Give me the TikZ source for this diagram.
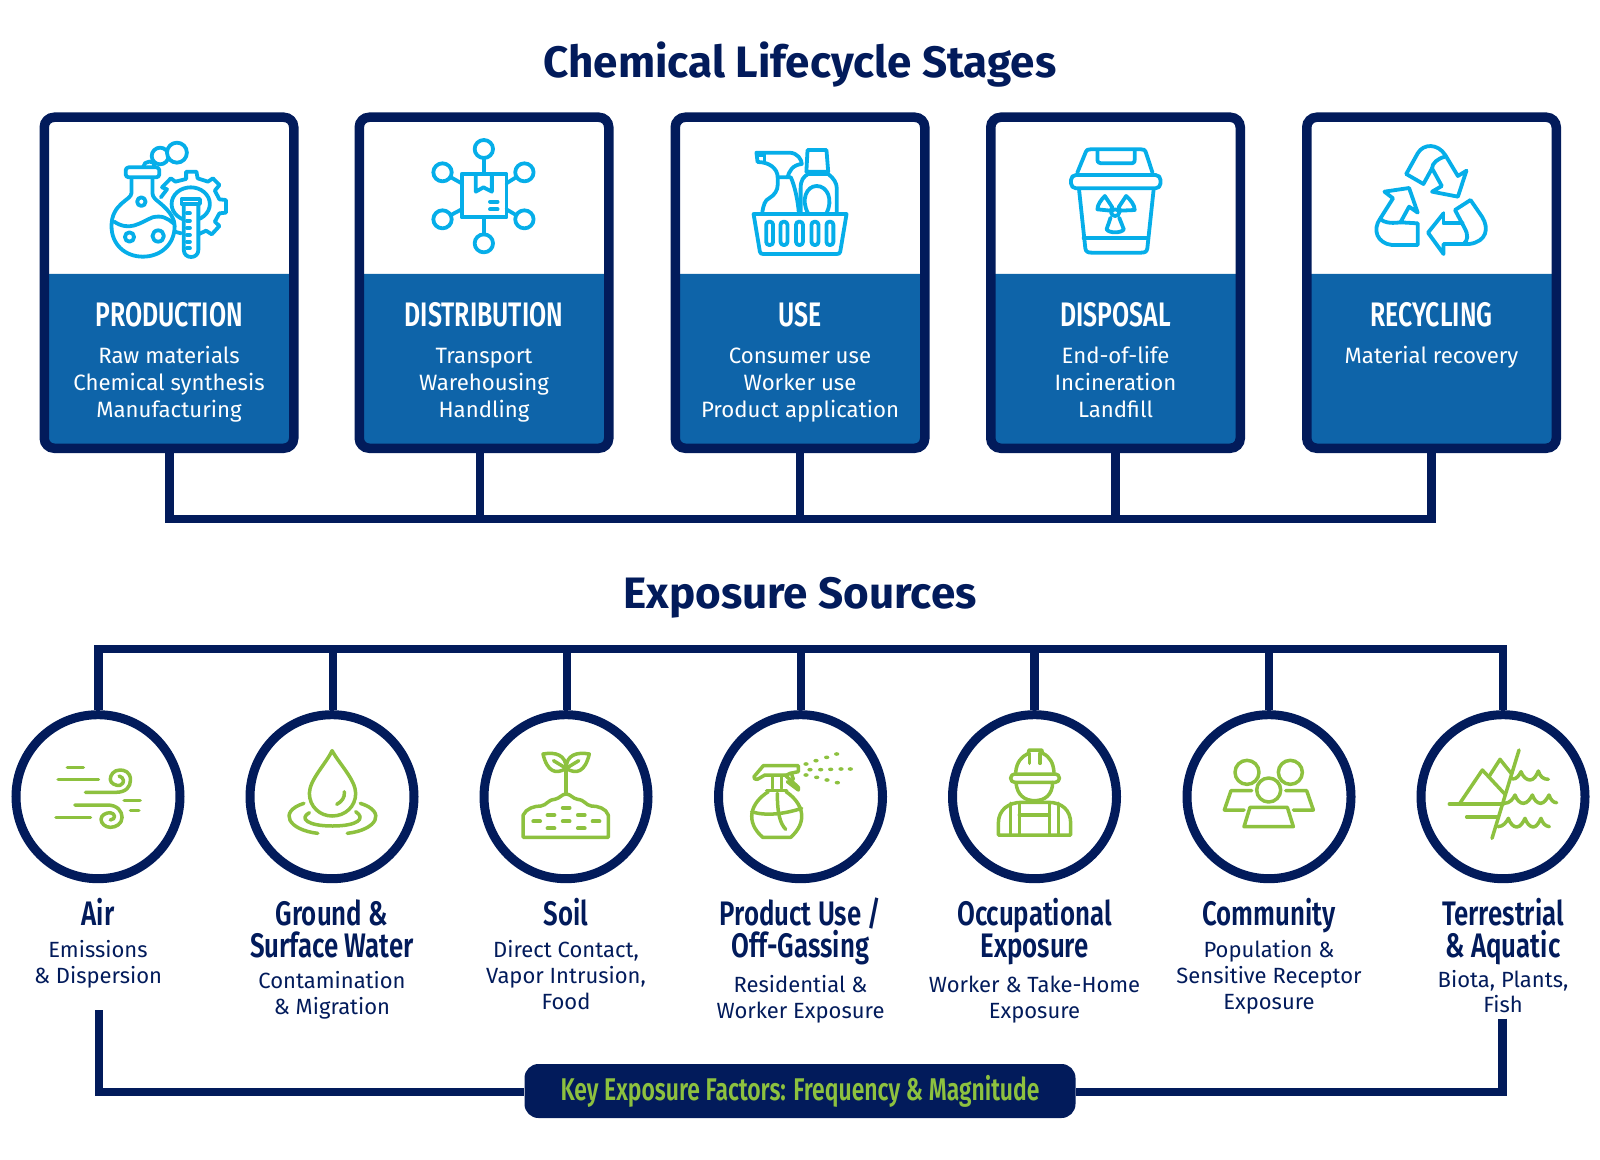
\documentclass[tikz,border=0pt]{standalone}
\usepackage{fontspec}
\setmainfont{Fira Sans}
\newfontfamily\headfont[FakeStretch=0.73,UprightFont=* SemiBold]{Fira Sans}
\newfontfamily\srcfont[FakeStretch=0.76,UprightFont=* SemiBold]{Fira Sans}
\newfontfamily\titlefont[UprightFont=* Bold]{Fira Sans}
\definecolor{navy}{HTML}{021B5B}
\definecolor{panel}{HTML}{0E64A9}
\definecolor{cyanicon}{HTML}{06AEE9}
\definecolor{greenicon}{HTML}{8DC13F}
\tikzset{
 bus/.style={draw=navy,line width=4.4pt,line join=miter},
 stagebox/.style={draw=navy,line width=4.75pt,rounded corners=5pt,minimum width=124.75pt,minimum height=165.5pt,inner sep=0pt},
 srccircle/.style={circle,draw=navy,fill=white,line width=4.5pt,minimum size=82pt,inner sep=0pt},
 titletext/.style={anchor=base,text=navy,font=\titlefont\fontsize{22}{24}\selectfont},
 stagehead/.style={anchor=base,text=white,font=\headfont\fontsize{17}{20}\selectfont},
 stagesub/.style={anchor=base,text=white,font=\fontsize{11.1}{13}\selectfont},
 srchead/.style={anchor=base,text=navy,font=\srcfont\fontsize{17}{20}\selectfont},
 srcsub/.style={anchor=base,text=navy,font=\fontsize{11}{13}\selectfont},
 pillbox/.style={draw=none,fill=navy,rounded corners=7pt,minimum width=275.5pt,minimum height=27pt,inner sep=0pt},
 pilltext/.style={anchor=base,text=greenicon,font=\headfont\fontsize{15.7}{18}\selectfont},
 cy/.style={draw=cyanicon,line width=1.9pt,line cap=round,line join=round},
 gr/.style={draw=greenicon,line width=1.75pt,line cap=round,line join=round},
 zA/.style={shift={(30,100)},x=0.19133pt,y=-0.16667pt},
 zB/.style={shift={(660,100)},x=0.28700pt,y=-0.16667pt},
 zC/.style={shift={(0,700)},x=0.21046pt,y=-0.16667pt},
 zD/.style={shift={(700,700)},x=0.16667pt,y=-0.16667pt},
 zE/.style={shift={(1170,700)},x=0.16667pt,y=-0.16667pt},
}
\begin{document}
\begin{tikzpicture}[x=0.5pt,y=-0.5pt]
\useasboundingbox (0,0) rectangle (1600,1160);
\node[titletext] (t1) at (800,77.5) {Chemical Lifecycle Stages};
\node[titletext] (t2) at (800,608) {Exposure Sources};
% panels
\foreach \i/\c in {1/169,2/484,3/800,4/1115.5,5/1431.5}{
  \fill[panel] (\c-124,274) -- (\c+124,274) -- (\c+124,438) -- (\c+118,447) -- (\c-118,447) -- (\c-124,438) -- cycle;
  \node[stagebox] (b\i) at (\c,282.75) {};
}
% bus coordinates
\coordinate (d1) at (169.5,519); \coordinate (d2) at (480,519); \coordinate (d3) at (800,519);
\coordinate (d4) at (1115.5,519); \coordinate (d5) at (1431.5,519);
\draw[bus] (b1.south -| d1) -- (d1) -- (d5) -- (b5.south -| d5);
\draw[bus] (b2.south -| d2) -- (d2);
\draw[bus] (b3.south -| d3) -- (d3);
\draw[bus] (b4.south -| d4) -- (d4);
% stage text
\node[stagehead] (h1) at (169,326.5) {PRODUCTION};
\node[stagesub] (s1a) at (169,363.5) {Raw materials};
\node[stagesub] (s1b) at (169,390.5) {Chemical synthesis};
\node[stagesub] (s1c) at (169,417) {Manufacturing};
\node[stagehead] (h2) at (484,326.5) {DISTRIBUTION};
\node[stagesub] (s2a) at (484,363.5) {Transport};
\node[stagesub] (s2b) at (484,390.5) {Warehousing};
\node[stagesub] (s2c) at (484,417) {Handling};
\node[stagehead] (h3) at (800,326.5) {USE};
\node[stagesub] (s3a) at (800,363.5) {Consumer use};
\node[stagesub] (s3b) at (800,390.5) {Worker use};
\node[stagesub] (s3c) at (800,417) {Product application};
\node[stagehead] (h4) at (1115.5,326.5) {DISPOSAL};
\node[stagesub] (s4a) at (1115.5,363.5) {End-of-life};
\node[stagesub] (s4b) at (1115.5,390.5) {Incineration};
\node[stagesub] (s4c) at (1115.5,417) {Landfill};
\node[stagehead] (h5) at (1431.5,326.5) {RECYCLING};
\node[stagesub] (s5a) at (1431.5,363.5) {Material recovery};
% circles and top bus
\coordinate (u1) at (98.5,649); \coordinate (u2) at (333,649); \coordinate (u3) at (567,649);
\coordinate (u4) at (801,649); \coordinate (u5) at (1034.5,649); \coordinate (u6) at (1269,649);
\coordinate (u7) at (1503,649);
\foreach \i/\c in {1/98,2/332,3/566,4/800.5,5/1034.5,6/1269,7/1503}{
  \node[srccircle] (c\i) at (\c,796.7) {};
}
\draw[bus] (c1.north -| u1) -- (u1) -- (u7) -- (c7.north -| u7);
\foreach \i in {2,...,6}{ \draw[bus] (c\i.north -| u\i) -- (u\i); }
% source text
\node[srchead] (n1) at (98,925) {Air};
\node[srcsub] (n1a) at (98,957) {Emissions};
\node[srcsub] (n1b) at (98,983.5) {\& Dispersion};
\node[srchead] (n2) at (332,925) {Ground \&};
\node[srchead] (n2h) at (332,957) {Surface Water};
\node[srcsub] (n2a) at (332,988) {Contamination};
\node[srcsub] (n2b) at (332,1014.5) {\& Migration};
\node[srchead] (n3) at (566,925) {Soil};
\node[srcsub] (n3a) at (566,957) {Direct Contact,};
\node[srcsub] (n3b) at (566,983.5) {Vapor Intrusion,};
\node[srcsub] (n3c) at (566,1009) {Food};
\node[srchead] (n4) at (800.5,925) {Product Use /};
\node[srchead] (n4h) at (800.5,957) {Off-Gassing};
\node[srcsub] (n4a) at (800.5,992) {Residential \&};
\node[srcsub] (n4b) at (800.5,1018) {Worker Exposure};
\node[srchead] (n5) at (1034.5,925) {Occupational};
\node[srchead] (n5h) at (1034.5,957) {Exposure};
\node[srcsub] (n5a) at (1034.5,992) {Worker \& Take-Home};
\node[srcsub] (n5b) at (1034.5,1018) {Exposure};
\node[srchead] (n6) at (1269,925) {Community};
\node[srcsub] (n6a) at (1269,957) {Population \&};
\node[srcsub] (n6b) at (1269,983.5) {Sensitive Receptor};
\node[srcsub] (n6c) at (1269,1009) {Exposure};
\node[srchead] (n7) at (1503,925) {Terrestrial};
\node[srchead] (n7h) at (1503,957) {\& Aquatic};
\node[srcsub] (n7a) at (1503,987) {Biota, Plants,};
\node[srcsub] (n7b) at (1503,1012.5) {Fish};
% pill and bottom bus
\node[pillbox] (pill) at (800,1091) {};
\node[pilltext] (pt) at (800,1100.5) {Key Exposure Factors: Frequency \& Magnitude};
\coordinate (e1) at (99,1010); \coordinate (e2) at (1502.5,1018.5);
\coordinate (f1) at (99,1092); \coordinate (f2) at (1502.5,1092);
\draw[bus] (e1) -- (f1) -- (f1 -| pill.west);
\draw[bus] (e2) -- (f2) -- (f2 -| pill.east);
% ---- icon: flask & gear
\begin{scope}[zA,cy]
 \draw (342,292) -- (358,268) -- (345,262) -- (368,235) -- (380,245) -- (408,237) -- (408,215) -- (435,215) -- (438,235) -- (465,245) -- (478,235) -- (495,255) -- (483,272) -- (495,298) -- (512,300) -- (512,338) -- (495,340) -- (483,365) -- (495,378) -- (475,403) -- (460,392) -- (442,402);
 \draw (378,395) -- (395,400);
 \draw (420,312) ellipse [x radius=50,y radius=50];
 \draw[fill=white] (402,312) -- (402,450) .. controls (402,478) and (440,478) .. (440,450) -- (440,312) -- cycle;
 \draw[fill=white] (396,297) rectangle (444,312);
 \foreach \y in {340,362,384,405,425,445}{\draw (410,\y) -- (418,\y);}
 \draw[fill=white] (265,232) -- (265,280) .. controls (265,300) and (213,310) .. (213,378) .. controls (213,435) and (250,470) .. (295,470) .. controls (340,470) and (378,435) .. (378,378) .. controls (378,340) and (340,310) .. (328,298) .. controls (322,290) and (320,285) .. (320,280) -- (320,232);
 \draw[fill=white,rounded corners=1.5pt] (250,202) rectangle (338,232);
 \draw (220,365) .. controls (260,395) and (285,370) .. (320,352) .. controls (345,345) and (360,355) .. (375,370);
 \draw (291,305) ellipse [x radius=11,y radius=13];
 \draw (260,411) ellipse [x radius=12,y radius=14];
 \draw (335,408) ellipse [x radius=15,y radius=17];
 \draw (296,200) .. controls (296,182) and (328,178) .. (324,198);
 \draw[fill=white] (340,168) ellipse [x radius=22,y radius=25];
 \draw[fill=white] (384,158) ellipse [x radius=26,y radius=30];
\end{scope}
% ---- icon: box network
\begin{scope}[zA,cy]
 \draw (1128,222) rectangle (1245,352);
 \draw (1165,222) -- (1165,275) -- (1185,262) -- (1207,275) -- (1207,222);
 \draw (1202,305) -- (1222,305);
 \draw (1202,328) -- (1222,328);
 \foreach \x/\y in {1186/147,1078/217,1292/217,1078/358,1292/358,1186/430}{
  \draw (\x,\y) ellipse [x radius=24,y radius=27];}
 \draw (1186,174) -- (1186,222);
 \draw (1186,352) -- (1186,403);
 \draw (1100,232) -- (1128,250);
 \draw (1270,232) -- (1245,250);
 \draw (1100,345) -- (1128,328);
 \draw (1270,345) -- (1245,328);
\end{scope}
% ---- icon: basket & bottles
\begin{scope}[zB,cy]
 \draw (178,340) .. controls (180,315) and (183,300) .. (190,295) .. controls (200,285) and (205,270) .. (205,255) -- (205,232) .. controls (205,205) and (190,186) .. (170,186) -- (168,158) -- (225,158) .. controls (240,158) and (247,180) .. (247,192) .. controls (230,195) and (225,215) .. (222,232);
 \draw (170,164) -- (182,164) -- (182,184);
 \draw (205,232) -- (228,232) .. controls (235,260) and (240,300) .. (242,340);
 \draw (257,150) -- (290,150) -- (293,215) -- (255,215) -- cycle;
 \draw (245,340) -- (245,265) .. controls (245,240) and (250,230) .. (258,222) -- (293,222) .. controls (303,235) and (308,250) .. (308,265) -- (308,340);
 \draw (258,340) .. controls (245,300) and (255,258) .. (273,258) .. controls (292,258) and (302,300) .. (290,340);
 \draw[fill=white] (163,342) -- (325,342) -- (314,455) .. controls (313,460) and (312,462) .. (308,462) -- (180,462) .. controls (176,462) and (175,460) .. (174,455) -- cycle;
 \foreach \x in {191,216,243,270,296}{
  \draw[rounded corners=1.5pt] (\x-6,365) rectangle (\x+6,435);}
\end{scope}
% ---- icon: trash
\begin{scope}[zB,cy]
 \draw (727,218) -- (742,155) .. controls (743,150) and (745,148) .. (750,148) -- (838,148) .. controls (843,148) and (845,150) .. (846,155) -- (858,218);
 \draw (762,150) -- (762,178) .. controls (762,188) and (765,190) .. (772,190) -- (818,190) .. controls (825,190) and (827,188) .. (827,178) -- (827,150);
 \draw[rounded corners=2.5pt] (716,225) rectangle (872,265);
 \draw (730,268) -- (741,445) .. controls (742,455) and (745,458) .. (752,458) -- (838,458) .. controls (845,458) and (848,455) .. (849,445) -- (860,268);
 \draw (738,415) -- (850,415);
 \draw (775,288) .. controls (768,300) and (762,315) .. (762,328) -- (785,332) -- (788,322) -- cycle;
 \draw (812,288) .. controls (820,300) and (827,315) .. (827,330) -- (802,332) -- (799,322) -- cycle;
 \draw (785,353) -- (778,388) .. controls (782,400) and (804,400) .. (808,388) -- (800,353);
 \draw (793,338) ellipse [x radius=7,y radius=10];
\end{scope}
% ---- icon: recycle
\begin{scope}[zB,cy]
 \draw (1300,222) -- (1320,160) .. controls (1330,130) and (1355,130) .. (1368,165) -- (1390,228) -- (1405,212) -- (1390,290) -- (1345,275) -- (1362,258) -- (1345,205) .. controls (1345,190) and (1355,175) .. (1368,170);
 \draw (1300,222) -- (1330,252) -- (1345,205);
 \draw (1262,275) -- (1305,264) -- (1320,338) -- (1305,320) -- (1290,367) -- (1320,370) -- (1320,435) -- (1275,435) .. controls (1250,430) and (1240,390) .. (1255,355) -- (1277,295) -- cycle;
 \draw (1255,355) .. controls (1258,365) and (1270,372) .. (1290,367);
 \draw (1365,340) -- (1338,398) -- (1365,462) -- (1365,432) -- (1410,432) .. controls (1440,425) and (1445,385) .. (1432,350) -- (1412,300) -- (1385,330) -- (1402,385) .. controls (1408,405) and (1408,420) .. (1400,432);
 \draw (1365,340) -- (1365,370) -- (1398,370);
\end{scope}
% ---- icon: wind
\begin{scope}[zC,gr]
 \draw (160,202) -- (198,202);
 \draw (138,239) -- (234,239);
 \draw (203,277) -- (275,277) .. controls (300,277) and (310,260) .. (310,240) .. controls (310,215) and (295,210) .. (285,210) .. controls (270,210) and (262,225) .. (262,238) .. controls (262,250) and (275,258) .. (285,256) .. controls (298,250) and (295,232) .. (283,228);
 \draw (178,315) -- (255,315) .. controls (280,315) and (290,335) .. (290,352) .. controls (290,372) and (275,382) .. (262,382) .. controls (250,382) and (240,370) .. (240,358) .. controls (240,345) and (252,338) .. (262,338) .. controls (275,340) and (276,358) .. (262,360);
 \draw (133,352) -- (215,352);
 \draw (295,301) -- (333,301);
 \draw (310,331) -- (330,331);
\end{scope}
% ---- icon: drop
\begin{scope}[zC,gr]
 \draw (789,152) .. controls (775,190) and (735,240) .. (735,280) .. controls (735,320) and (760,348) .. (789,348) .. controls (820,348) and (845,320) .. (845,280) .. controls (845,240) and (805,190) .. (789,152) -- cycle;
 \draw (800,313) .. controls (812,305) and (820,292) .. (818,275);
 \draw (735,338) .. controls (710,355) and (730,378) .. (790,378) .. controls (850,378) and (870,355) .. (845,335);
 \draw (722,310) .. controls (660,335) and (685,390) .. (755,400);
 \draw (856,310) .. controls (920,335) and (895,390) .. (825,400);
\end{scope}
% ---- icon: soil
\begin{scope}[zC,gr]
 \draw (1345,205) .. controls (1320,225) and (1300,215) .. (1290,162) .. controls (1320,155) and (1345,165) .. (1345,205);
 \draw (1345,205) .. controls (1370,225) and (1390,215) .. (1400,162) .. controls (1370,155) and (1345,165) .. (1345,205);
 \draw (1315,182) -- (1345,205) -- (1375,182);
 \draw (1345,205) -- (1345,280);
 \draw (1243,412) -- (1243,345) .. controls (1250,325) and (1270,318) .. (1285,318) .. controls (1300,315) and (1300,300) .. (1318,298) .. controls (1330,295) and (1335,282) .. (1345,282) .. controls (1355,282) and (1360,295) .. (1372,298) .. controls (1390,300) and (1390,315) .. (1405,318) .. controls (1420,318) and (1440,325) .. (1445,345) -- (1445,412) -- cycle;
 \foreach \x/\y in {1345/323,1309/345,1381/345,1275/364,1345/364,1416/364,1309/385,1381/385}{
   \draw[line width=2pt] (\x-8,\y) -- (\x+8,\y);}
\end{scope}
% ---- icon: spray
\begin{scope}[zD,gr]
 \draw (162,230) -- (190,197) -- (295,197) -- (295,215) -- (270,220) -- (260,225) -- (195,225) -- (172,238) .. controls (166,240) and (160,235) .. (162,230) -- cycle;
 \draw (255,225) -- (295,262) -- (295,270) -- (262,245);
 \draw (275,222) -- (280,238);
 \draw (218,228) -- (218,265);
 \draw (245,228) -- (245,265);
 \draw (200,272) -- (260,272);
 \draw (205,275) .. controls (150,310) and (135,365) .. (188,412) -- (272,412) .. controls (325,365) and (310,310) .. (258,275);
 \draw (155,335) .. controls (200,350) and (260,340) .. (305,325);
 \draw (232,280) .. controls (232,340) and (240,370) .. (257,388);
\end{scope}
\foreach \x/\y in {318/192,348/182,380/172,410/162,330/209,362/209,392/208,423/207,451/207,318/225,350/232,381/240,412/248}{
 \fill[greenicon,zD] (\x,\y) ellipse [x radius=8,y radius=5.5];}
% ---- icon: worker
\begin{scope}[zD,gr]
 \draw (947,217) .. controls (950,185) and (965,170) .. (985,160) -- (987,150) -- (1025,150) -- (1028,160) .. controls (1050,170) and (1060,190) .. (1062,217);
 \draw (988,160) -- (988,190);
 \draw (1020,160) -- (1020,190);
 \draw[rounded corners=2pt] (932,222) rectangle (1078,247);
 \draw (948,247) .. controls (950,285) and (975,302) .. (1003,302) .. controls (1035,302) and (1057,285) .. (1058,247);
 \draw (895,405) -- (895,370) .. controls (895,330) and (925,307) .. (965,307) -- (1045,307) .. controls (1085,307) and (1112,330) .. (1112,370) -- (1112,405) -- cycle;
 \foreach \x in {932,958,1048,1075}{\draw (\x,310) -- (\x,405);}
 \draw (958,345) -- (1048,345);
\end{scope}
% ---- icon: community
\begin{scope}[zE,gr]
 \draw (231,217) circle [radius=36];
 \draw (361,217) circle [radius=36];
 \draw (296,270) circle [radius=36];
 \draw (245,272) -- (183,272) -- (163,330) -- (222,330);
 \draw (347,272) -- (410,272) -- (430,330) -- (370,330);
 \draw (240,322) -- (352,322) -- (370,380) -- (222,380) -- cycle;
\end{scope}
% ---- icon: terrestrial & aquatic
\begin{scope}[zE,gr]
 \draw (1047,150) -- (966,415);
 \draw (838,312) -- (1000,312);
 \draw (890,351) -- (985,351);
 \draw (868,312) -- (937,210) -- (1005,283);
 \draw (958,228) -- (990,178) -- (1025,222);
 \draw (1027,237) .. controls (1040,238) and (1048,225) .. (1053,215) .. controls (1058,230) and (1070,240) .. (1080,240) .. controls (1092,240) and (1100,225) .. (1105,213) .. controls (1110,230) and (1120,238) .. (1135,238);
 \draw (1003,310) .. controls (1020,310) and (1030,295) .. (1035,285) .. controls (1040,300) and (1050,310) .. (1060,310) .. controls (1072,310) and (1082,295) .. (1087,285) .. controls (1092,300) and (1102,310) .. (1112,310) .. controls (1122,310) and (1132,295) .. (1137,285) .. controls (1142,300) and (1150,308) .. (1160,308);
 \draw (984,380) .. controls (1000,380) and (1010,365) .. (1015,355) .. controls (1020,370) and (1030,381) .. (1040,381) .. controls (1052,381) and (1060,365) .. (1065,355) .. controls (1070,370) and (1080,381) .. (1090,381) .. controls (1100,381) and (1108,365) .. (1113,355) .. controls (1118,370) and (1125,378) .. (1138,380);
\end{scope}
\end{tikzpicture}
\end{document}
